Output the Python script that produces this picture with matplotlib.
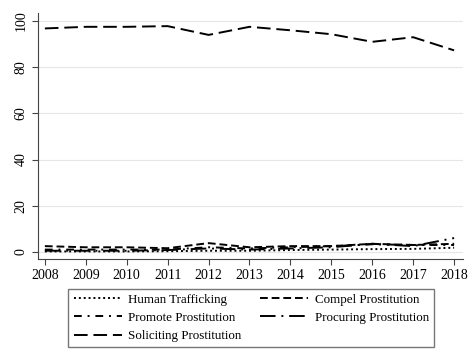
import matplotlib.pyplot as plt

plt.rcParams['font.family'] = ['Liberation Serif', 'DejaVu Serif']

years = list(range(2008, 2019))

human_trafficking = [0.2, 0.2, 0.2, 0.3, 0.5, 0.5, 0.8, 1.0, 1.2, 1.3, 1.8]
compel = [2.5, 2.0, 2.0, 1.6, 3.8, 2.0, 2.5, 2.5, 3.5, 3.0, 3.5]
promote = [1.0, 1.0, 1.0, 1.0, 2.0, 1.5, 2.0, 2.5, 3.3, 3.0, 3.0]
procuring = [0.5, 0.5, 0.5, 0.8, 1.5, 1.0, 1.5, 2.0, 3.5, 2.5, 6.0]
soliciting = [96.8, 97.5, 97.5, 97.8, 94.0, 97.5, 96.0, 94.3, 91.0, 93.0, 87.3]

fig = plt.figure(figsize=(4.74, 3.63), dpi=100)
ax = fig.add_axes([0.080, 0.287, 0.897, 0.676])

lw = 1.4
h1, = ax.plot(years, human_trafficking, color='black', lw=lw, linestyle=(0, (1, 1.5)), label='Human Trafficking')
h2, = ax.plot(years, compel, color='black', lw=lw, linestyle=(0, (4, 2)), label='Compel Prostitution')
h3, = ax.plot(years, promote, color='black', lw=lw, linestyle=(0, (4, 3, 1, 3)), label='Promote Prostitution')
h4, = ax.plot(years, procuring, color='black', lw=lw, linestyle=(0, (8, 3, 1, 3)), label='Procuring Prostitution')
h5, = ax.plot(years, soliciting, color='black', lw=lw, linestyle=(0, (7, 3)), label='Soliciting Prostitution')

ax.set_xlim(2007.83, 2018.22)
ax.set_ylim(-3, 103.3)
ax.set_xticks(years)
ax.set_yticks([0, 20, 40, 60, 80, 100])
ax.set_yticklabels(['0', '20', '40', '60', '80', '100'], rotation=90, va='center')
ax.tick_params(labelsize=10, length=4, color='#444444')
ax.grid(axis='y', color='#e6e6e6', lw=0.8)
ax.set_axisbelow(True)
for side in ['top', 'right']:
    ax.spines[side].set_visible(False)
for side in ['left', 'bottom']:
    ax.spines[side].set_color('#444444')

# legend filled row by row like the original
handles = [h1, h3, h5, h2, h4]
leg = fig.legend(handles, [h.get_label() for h in handles], loc='center',
                 bbox_to_anchor=(0.53, 0.124), ncol=2, fontsize=9.4,
                 fancybox=False, edgecolor='#555555', handlelength=3.7,
                 columnspacing=1.4, borderpad=0.4, labelspacing=0.45,
                 handletextpad=0.5)
leg.get_frame().set_linewidth(1.0)

fig.savefig('out.png', dpi=100)
